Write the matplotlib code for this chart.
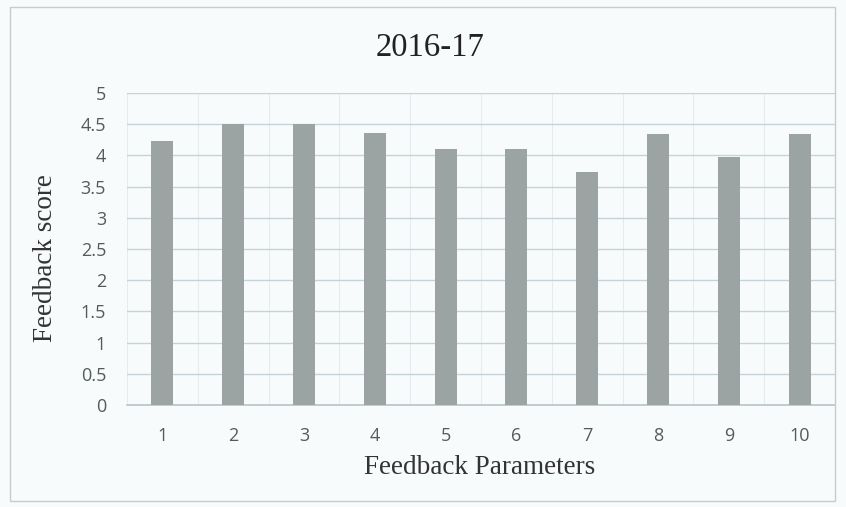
import matplotlib
matplotlib.use("Agg")
import matplotlib.pyplot as plt
from matplotlib.patches import Rectangle

categories = ["1", "2", "3", "4", "5", "6", "7", "8", "9", "10"]
scores = [4.23, 4.5, 4.5, 4.36, 4.1, 4.1, 3.73, 4.35, 3.97, 4.35]
yticks = [0, 0.5, 1, 1.5, 2, 2.5, 3, 3.5, 4, 4.5, 5]
ytick_labels = ["0", "0.5", "1", "1.5", "2", "2.5", "3", "3.5", "4", "4.5", "5"]

bg = "#f8fbfb"
fig = plt.figure(figsize=(8.46, 5.07), dpi=100, facecolor=bg)
fig.patches.append(Rectangle((0.012, 0.012), 0.975, 0.975, transform=fig.transFigure,
                             fill=False, edgecolor="#c8cccc", linewidth=1.0))
ax = fig.add_axes([0.150, 0.201, 0.837, 0.6154], facecolor=bg)

x = list(range(1, len(categories) + 1))
ax.bar(x, scores, width=0.31, color="#9ca3a3", zorder=3)

ax.set_xlim(0.5, 10.5)
ax.set_ylim(0, 5)
ax.set_yticks(yticks)
ax.set_yticklabels(ytick_labels)
ax.set_xticks(x)
ax.set_xticklabels(categories)
ax.set_xticks([i + 0.5 for i in range(0, 10)], minor=True)

ax.grid(axis="y", which="major", color="#c5d3d8", linewidth=1.0, zorder=0)
ax.grid(axis="x", which="minor", color="#e4ecee", linewidth=0.8, zorder=0)
ax.tick_params(which="both", length=0)
ax.tick_params(axis="y", pad=15, labelsize=13, labelcolor="#555a5a")
ax.tick_params(axis="x", pad=16, labelsize=13, labelcolor="#555a5a")
for lab in ax.get_xticklabels() + ax.get_yticklabels():
    lab.set_fontfamily("Open Sans")

for s in ["top", "right", "left"]:
    ax.spines[s].set_visible(False)
ax.spines["bottom"].set_color("#b8c4c8")
ax.spines["bottom"].set_linewidth(1.2)

fig.text(0.508, 0.905, "2016-17", ha="center", va="center",
         fontfamily="Liberation Serif", fontsize=23.5, color="#222222")
fig.text(45 / 846, 1 - 258 / 507, "Feedback score", ha="center", va="center",
         rotation=90, fontfamily="Liberation Serif", fontsize=19.5, color="#333333")
fig.text(480 / 846, 1 - 467 / 507, "Feedback Parameters", ha="center", va="center",
         fontfamily="Liberation Serif", fontsize=19.5, color="#333333")

fig.savefig("out.png", dpi=100, facecolor=bg)
